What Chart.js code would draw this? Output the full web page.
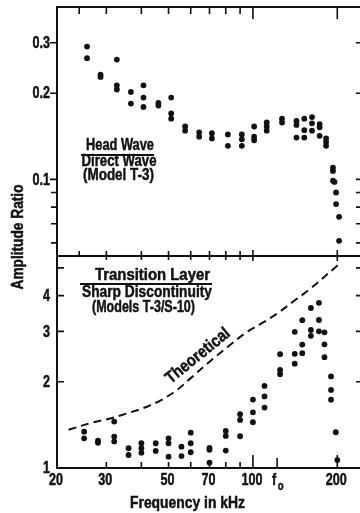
<!DOCTYPE html>
<html>
<head>
<meta charset="utf-8">
<script src="https://cdn.jsdelivr.net/npm/chart.js@4/dist/chart.umd.min.js"></script>
<style>
  html, body { margin: 0; padding: 0; background: #fff; overflow: hidden; width: 360px; height: 513px; }
  #wrap { position: relative; width: 360px; height: 513px; overflow: hidden; }
  canvas { position: absolute; left: 0; top: 0; }
</style>
</head>
<body>
<div id="wrap">
  <canvas id="upper" width="366" height="513"></canvas>
  <canvas id="lower" width="366" height="513"></canvas>
</div>
<script>
// Head wave / direct wave (Model T-3): frequency (kHz) and the ratios measured there
const headFreq = [25.6, 28.6, 32.7, 36.7, 40.7, 46, 51.1, 57.3, 64.3, 71.4, 81.4, 91.3,
                  101, 112, 127, 143, 152.5, 162.5, 173, 182.4, 193, 195.5, 198, 203];
const headRatio = [
  [0.291, 0.265], [0.232, 0.228], [0.262, 0.213, 0.206], [0.202, 0.184],
  [0.213, 0.193, 0.179], [0.185, 0.181], [0.193, 0.170, 0.163], [0.153, 0.148],
  [0.146, 0.141], [0.145, 0.139], [0.1435, 0.131], [0.1435, 0.138, 0.131],
  [0.153, 0.141, 0.137], [0.158, 0.153, 0.148], [0.163, 0.158], [0.160, 0.155, 0.140],
  [0.163, 0.1485, 0.140], [0.165, 0.157, 0.148], [0.156, 0.152, 0.142], [0.139, 0.135, 0.131],
  [0.110, 0.107, 0.099], [0.098], [0.090, 0.082], [0.074, 0.061]
];

// Transition layer / sharp discontinuity (Models T-3/S-10)
const layerFreq = [25, 28, 32, 36, 40, 45, 50, 55.6, 60, 70, 80, 90,
                   100, 110, 125, 141, 150, 161, 172, 180, 190, 197.5, 200];
const layerRatio = [
  [1.339, 1.270], [1.245, 1.225], [1.452, 1.287, 1.238], [1.172, 1.110],
  [1.220, 1.172, 1.131], [1.220, 1.147], [1.270, 1.220, 1.095], [1.187, 1.101],
  [1.328, 1.220, 1.135], [1.175, 1.158, 1.045], [1.347, 1.294, 1.150], [1.541, 1.472, 1.291],
  [1.734, 1.565, 1.445], [1.935, 1.778, 1.625], [2.498, 2.201, 2.126], [2.989, 2.504, 2.314],
  [3.284, 2.699, 2.518], [3.62, 3.033, 2.894], [3.775, 3.287, 3.001], [2.977, 2.703, 2.438],
  [2.089, 1.874, 1.732], [1.333], [1.066]
];

// Theoretical curve
const theoryFreq  = [22, 27, 31, 35.5, 40.7, 46.7, 53.5, 60, 71.4, 81.8, 94, 108, 123, 142, 158, 202];
const theoryRatio = [1.36, 1.445, 1.49, 1.55, 1.62, 1.72, 1.87, 2.06, 2.39, 2.66, 2.96, 3.21, 3.48, 3.87, 4.18, 5.13];

// Axes
const freqRange = [20, 245];
const headRange = [0.054, 0.4];
const layerRange = [1, 5.5];
const freqLabelValues = [20, 30, 50, 70, 100, 200];
const freqMinorTicks = [30, 40, 50, 60, 70, 80, 90];
const freqMajorTicks = [100, 200];
const fZero = 122;
const upperExtraTick = 24;
const headLabelTicks = [0.1, 0.2, 0.3];
const headMinorTicks = [0.06, 0.07, 0.08, 0.09];
const layerLabelTicks = [1, 2, 3, 4];
const layerMinorTicks = [5];

const INK = '#111';
const FONT = '"Liberation Sans Narrow", "Liberation Sans", Arial, sans-serif';
const NOTE_FONT = `bold 17px ${FONT}`;
const TICK_FONT = `bold 17px ${FONT}`;
const TICK_SQUEEZE = 0.74;   // condensed look for the numerals

function toPoints(freqs, groups) {
  const pts = [];
  freqs.forEach((f, i) => groups[i].forEach(v => pts.push({ x: f, y: v })));
  return pts;
}

// Text with optional rotation and horizontal squeeze (fixed factor or fitted to a width)
function drawText(ctx, text, x, y, o) {
  ctx.save();
  ctx.font = o.font || NOTE_FONT;
  ctx.textAlign = o.align || 'center';
  ctx.textBaseline = o.baseline || 'alphabetic';
  ctx.translate(x, y);
  if (o.angle) ctx.rotate(o.angle * Math.PI / 180);
  let k = o.squeeze || 1;
  if (o.width) k = o.width / ctx.measureText(text).width;
  ctx.scale(k, 1);
  ctx.lineWidth = 0.5;
  ctx.lineJoin = 'round';
  ctx.fillText(text, 0, 0);
  ctx.strokeText(text, 0, 0);
  ctx.restore();
}

// Frame, tick marks and tick labels, all placed through the chart's scales
const framePlugin = {
  id: 'frame',
  afterDatasetsDraw(chart, args, o) {
    const { ctx, chartArea: a } = chart;
    const x = chart.scales.x, y = chart.scales.y;
    ctx.save();
    ctx.strokeStyle = INK;
    ctx.fillStyle = INK;
    ctx.lineCap = 'square';
    ctx.lineWidth = 2;
    ctx.beginPath();
    if (o.edges.includes('top'))    { ctx.moveTo(a.left, a.top); ctx.lineTo(a.right, a.top); }
    if (o.edges.includes('bottom')) { ctx.moveTo(a.left, a.bottom); ctx.lineTo(a.right, a.bottom); }
    if (o.edges.includes('left'))   { ctx.moveTo(a.left, a.top); ctx.lineTo(a.left, a.bottom); }
    if (o.edges.includes('right'))  { ctx.moveTo(a.right, a.top); ctx.lineTo(a.right, a.bottom); }
    ctx.stroke();

    ctx.lineWidth = 1.6;
    ctx.lineCap = 'butt';
    ctx.beginPath();
    (o.topTicks || []).forEach(([v, len]) => {
      const px = x.getPixelForValue(v);
      ctx.moveTo(px, a.top); ctx.lineTo(px, a.top + len);
    });
    (o.bottomTicks || []).forEach(([v, len]) => {
      const px = x.getPixelForValue(v);
      ctx.moveTo(px, a.bottom); ctx.lineTo(px, a.bottom - len);
    });
    (o.leftTicks || []).forEach(([v, len]) => {
      const py = y.getPixelForValue(v);
      ctx.moveTo(a.left, py); ctx.lineTo(a.left + len, py);
    });
    (o.rightTicks || []).forEach(([v, len]) => {
      const py = y.getPixelForValue(v);
      ctx.moveTo(a.right, py); ctx.lineTo(a.right - len, py);
    });
    ctx.stroke();

    (o.yLabels || []).forEach(([v, text]) => {
      drawText(ctx, text, a.left - 7, y.getPixelForValue(v) + 0.5,
               { font: TICK_FONT, align: 'right', baseline: 'middle', squeeze: TICK_SQUEEZE });
    });
    (o.xLabels || []).forEach(([v, text]) => {
      drawText(ctx, text, x.getPixelForValue(v) - 1, a.bottom + 4,
               { font: TICK_FONT, baseline: 'top', squeeze: TICK_SQUEEZE });
    });
    if (o.fZero) {
      const px = x.getPixelForValue(fZero);
      drawText(ctx, 'f', px - 3, a.bottom + 4, { font: TICK_FONT, baseline: 'top', squeeze: TICK_SQUEEZE });
      drawText(ctx, 'o', px + 3.5, a.bottom + 12, { font: `bold 13px ${FONT}`, baseline: 'top', squeeze: TICK_SQUEEZE });
    }
    ctx.restore();
  }
};

// Captions, fraction bars and axis titles
const textPlugin = {
  id: 'notes',
  afterDraw(chart, args, o) {
    const ctx = chart.ctx;
    ctx.save();
    ctx.fillStyle = INK;
    ctx.strokeStyle = INK;
    (o.items || []).forEach(it => drawText(ctx, it.text, it.x, it.y, it));
    ctx.lineWidth = 1.8;
    (o.rules || []).forEach(r => {
      ctx.beginPath(); ctx.moveTo(r.x0, r.y); ctx.lineTo(r.x1, r.y); ctx.stroke();
    });
    ctx.restore();
  }
};

function yScale(range) {
  return {
    type: 'logarithmic', min: range[0], max: range[1], position: 'left',
    afterFit: s => { s.width = 57; },
    grid: { display: false, drawTicks: false },
    border: { display: false },
    ticks: { display: false }
  };
}

const common = {
  responsive: false,
  devicePixelRatio: 1,
  animation: false,
  events: [],
  plugins: { legend: { display: false }, tooltip: { enabled: false } }
};

const dotStyle = { backgroundColor: INK, borderColor: INK, pointRadius: 2.9, pointBorderWidth: 0 };

// Upper panel
new Chart(document.getElementById('upper'), {
  type: 'scatter',
  data: { datasets: [{ data: toPoints(headFreq, headRatio), ...dotStyle }] },
  options: {
    ...common,
    layout: { padding: { top: 7, bottom: 257, left: 0, right: 4 } },
    scales: {
      x: { type: 'logarithmic', min: freqRange[0], max: freqRange[1], display: false },
      y: yScale(headRange)
    },
    plugins: {
      ...common.plugins,
      frame: {
        edges: ['top', 'left', 'right'],
        topTicks: [[upperExtraTick, 7], ...freqMinorTicks.map(v => [v, 7]), ...freqMajorTicks.map(v => [v, 12])],
        bottomTicks: [[upperExtraTick, 5], ...freqMinorTicks.map(v => [v, 5]), ...freqMajorTicks.map(v => [v, 6])],
        leftTicks: [...headLabelTicks.map(v => [v, -7]), ...headMinorTicks.map(v => [v, -6])],
        rightTicks: [...headLabelTicks.map(v => [v, 6]), ...headMinorTicks.map(v => [v, 6])],
        yLabels: headLabelTicks.map(v => [v, v.toFixed(1)])
      },
      notes: {
        items: [
          { text: 'Head Wave', x: 120, y: 150, width: 68 },
          { text: 'Direct Wave', x: 119, y: 166, width: 75 },
          { text: '(Model T-3)', x: 118.5, y: 180, width: 71 },
          { text: 'Amplitude Ratio', x: 19, y: 237, angle: -90, baseline: 'middle', width: 105,
            font: `bold 16px ${FONT}` }
        ],
        rules: [{ x0: 81, x1: 154, y: 155 }]
      }
    }
  },
  plugins: [framePlugin, textPlugin]
});

// Lower panel
new Chart(document.getElementById('lower'), {
  type: 'scatter',
  data: {
    datasets: [
      {
        data: theoryFreq.map((f, i) => ({ x: f, y: theoryRatio[i] })),
        showLine: true, borderColor: INK, borderWidth: 2, borderDash: [8, 5],
        pointRadius: 0, tension: 0.35, fill: false
      },
      { data: toPoints(layerFreq, layerRatio), ...dotStyle }
    ]
  },
  options: {
    ...common,
    layout: { padding: { top: 256, bottom: 0, left: 0, right: 4 } },
    scales: {
      x: {
        type: 'logarithmic', min: freqRange[0], max: freqRange[1], position: 'bottom',
        afterFit: s => { s.height = 45; },
        grid: { display: false, drawTicks: false },
        border: { display: false },
        ticks: { display: false }
      },
      y: yScale(layerRange)
    },
    plugins: {
      ...common.plugins,
      frame: {
        edges: ['top', 'bottom', 'left', 'right'],
        topTicks: [...freqMinorTicks.map(v => [v, 4]), ...freqMajorTicks.map(v => [v, 5])],
        bottomTicks: [...freqMinorTicks.map(v => [v, 6]), ...freqMajorTicks.map(v => [v, 13]), [fZero, 10]],
        leftTicks: [...layerLabelTicks.slice(1).map(v => [v, 7]), ...layerMinorTicks.map(v => [v, 7])],
        rightTicks: [...layerLabelTicks.slice(1).map(v => [v, 6]), ...layerMinorTicks.map(v => [v, 6])],
        yLabels: layerLabelTicks.map(v => [v, String(v)]),
        xLabels: freqLabelValues.map(v => [v, String(v)]),
        fZero: true
      },
      notes: {
        items: [
          { text: 'Transition Layer', x: 152.5, y: 280, width: 115 },
          { text: 'Sharp Discontinuity', x: 147, y: 297, width: 130 },
          { text: '(Models T-3/S-10)', x: 143.5, y: 312, width: 103 },
          { text: 'Theoretical', x: 198, y: 356, angle: -39, baseline: 'middle', width: 78 },
          { text: 'Frequency in kHz', x: 187.5, y: 508, width: 115 }
        ],
        rules: [{ x0: 80, x1: 212, y: 284 }]
      }
    }
  },
  plugins: [framePlugin, textPlugin]
});
</script>
</body>
</html>
